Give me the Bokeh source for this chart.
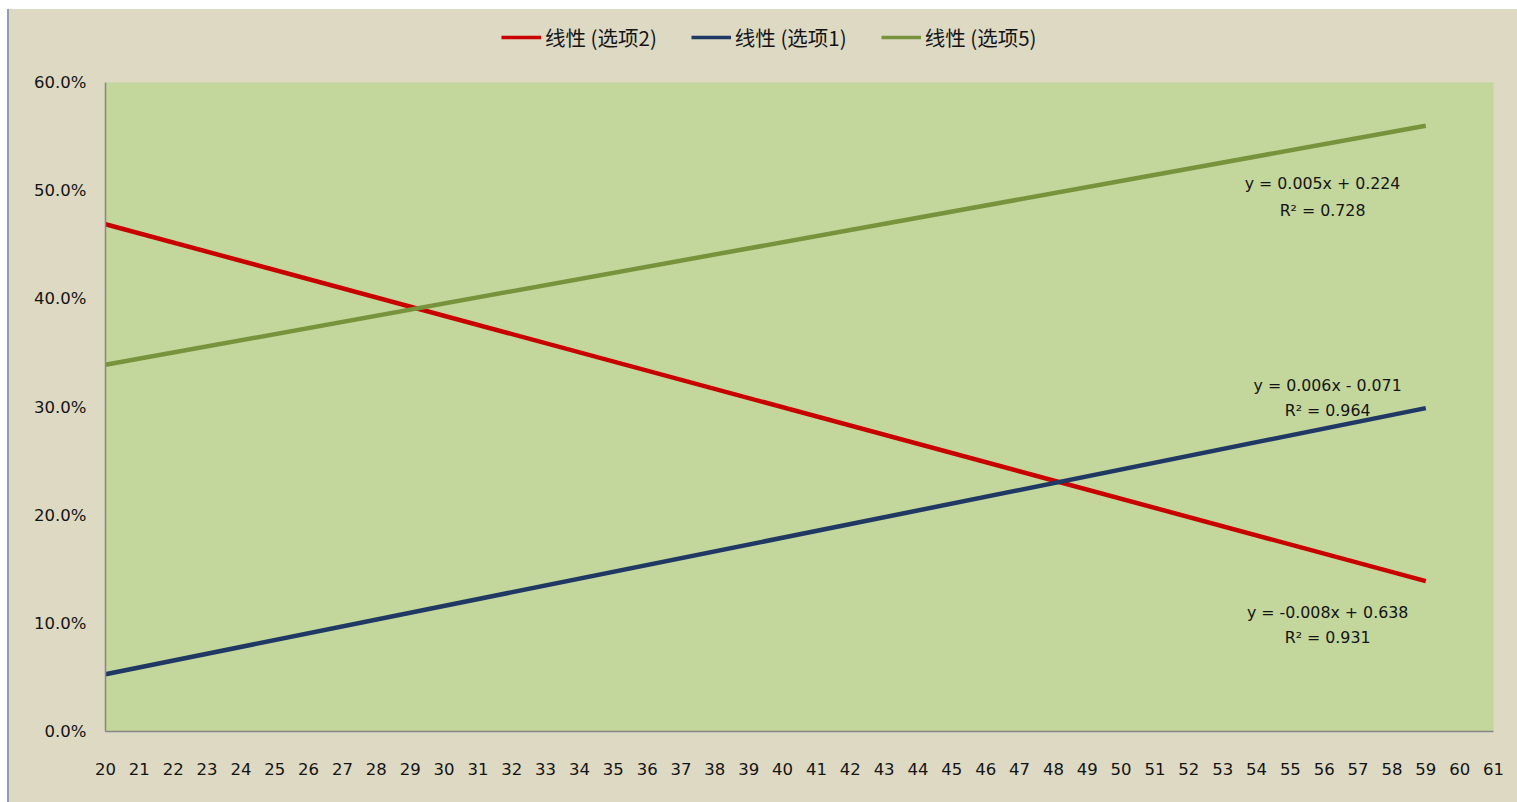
from bokeh.plotting import figure
from bokeh.models import (Range1d, FixedTicker, NumeralTickFormatter, Legend,
                          LegendItem, Label, Spacer)
from bokeh.layouts import row, column
from bokeh.embed import file_html
from bokeh.resources import INLINE

# Age categories on the horizontal axis
age_ticks = list(range(20, 62))

# Linear trend lines, evaluated at the first and last age
trend_ages = [20, 59]
option2 = [0.469, 0.139]
option1 = [0.053, 0.299]
option5 = [0.339, 0.560]

series_names = ["线性 (选项2)", "线性 (选项1)", "线性 (选项5)"]
series_colors = ["#c80000", "#1f3864", "#77933c"]

# Regression equations shown beside each trend line
eq_option5 = ["y = 0.005x + 0.224", "R² = 0.728"]
eq_option1 = ["y = 0.006x - 0.071", "R² = 0.964"]
eq_option2 = ["y = -0.008x + 0.638", "R² = 0.931"]

BG = "#ddd9c3"
PLOT_BG = "#c3d69b"
AXIS = "#868686"
TXT = "#141414"
FONT = "DejaVu Sans"
LINE_W = 4.5

# --- main chart -------------------------------------------------------
p = figure(width=1508, height=730, output_backend="svg", toolbar_location=None,
           x_range=Range1d(20, 61), y_range=Range1d(0, 0.6),
           min_border_left=96, min_border_right=24, min_border_top=10,
           min_border_bottom=71)
p.background_fill_color = PLOT_BG
p.border_fill_color = BG
p.outline_line_color = None
p.xgrid.visible = False
p.ygrid.visible = False

p.xaxis.ticker = FixedTicker(ticks=age_ticks)
p.yaxis.ticker = FixedTicker(ticks=[0, 0.1, 0.2, 0.3, 0.4, 0.5, 0.6])
p.yaxis.formatter = NumeralTickFormatter(format="0.0%")
for ax in (p.xaxis, p.yaxis):
    ax.axis_line_color = AXIS
    ax.axis_line_width = 1.5
    ax.major_tick_line_color = None
    ax.minor_tick_line_color = None
    ax.major_label_text_font = FONT
    ax.major_label_text_font_size = "16.5px"
    ax.major_label_text_color = TXT
p.xaxis.major_label_standoff = 25
p.yaxis.major_label_standoff = 13

for vals, color in zip([option2, option1, option5], series_colors):
    p.line(trend_ages, vals, line_color=color, line_width=LINE_W)

for lines, x, ys in [(eq_option5, 55.95, (0.5065, 0.482)),
                     (eq_option1, 56.1, (0.320, 0.297)),
                     (eq_option2, 56.1, (0.110, 0.087))]:
    for t, y in zip(lines, ys):
        p.add_layout(Label(x=x, y=y, text=t, text_align="center",
                           text_baseline="middle", text_font=FONT,
                           text_font_size="15.8px", text_color=TXT))

# --- legend strip above the chart (transparent, over a beige container) --
leg = figure(width=1508, height=63, output_backend="svg", toolbar_location=None,
             x_range=Range1d(0, 1), y_range=Range1d(0, 1),
             min_border=0, min_border_left=0, min_border_right=0,
             min_border_top=0, min_border_bottom=0)
leg.axis.visible = False
leg.grid.visible = False
leg.outline_line_color = None
leg.background_fill_color = None
leg.border_fill_color = None

# legend glyphs come from line renderers that sit outside this strip's ranges
leg_renderers = []
for vals, color in zip([option2, option1, option5], series_colors):
    leg_renderers.append(leg.line(trend_ages, vals, line_color=color,
                                  line_width=LINE_W - 1))

items = [LegendItem(label=n, renderers=[r]) for n, r in zip(series_names, leg_renderers)]
legend = Legend(items=items, orientation="horizontal", location=(396, 20),
                glyph_width=40, glyph_height=20, label_standoff=4, spacing=34,
                padding=4, margin=0, background_fill_alpha=0,
                border_line_color=None, label_text_font="Noto Sans CJK SC",
                label_text_font_size="20.5px", label_text_color=TXT)
leg.add_layout(legend, "center")

edge = Spacer(width=2, height=793, styles={"background-color": "#8d9db5"})
chart = column(leg, p, spacing=0, styles={"background-color": BG})
layout = column(Spacer(width=1517, height=9),
                row(Spacer(width=7, height=793), edge, chart, spacing=0),
                spacing=0)

open("out.html", "w").write(file_html(layout, INLINE))
